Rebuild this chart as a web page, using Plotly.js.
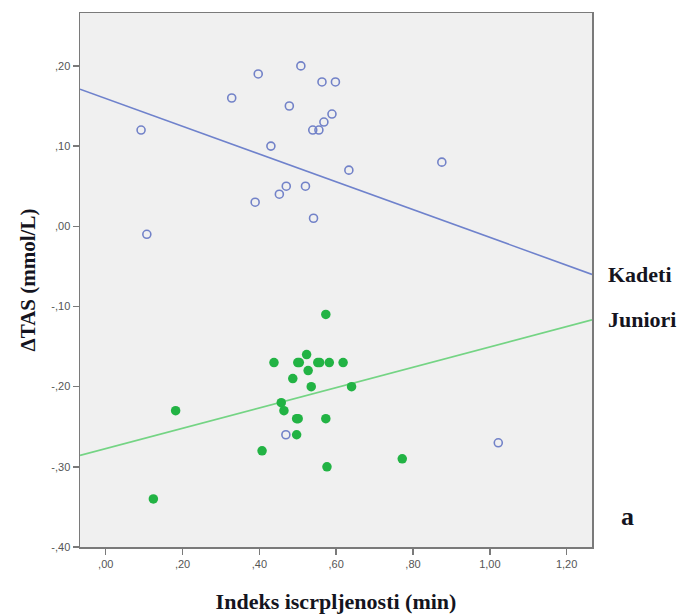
<!DOCTYPE html>
<html>
<head>
<meta charset="utf-8">
<script src="https://cdn.plot.ly/plotly-3.0.1.min.js"></script>
<style>html,body{margin:0;padding:0;background:#fff;}#chart{width:682px;height:615px;}</style>
</head>
<body>
<div id="chart"></div>
<script>
// Kadeti (open circles)
const kadetiX = [0.397, 0.508, 0.563, 0.598, 0.328, 0.478, 0.589, 0.568, 0.539, 0.555, 0.430, 0.633, 0.470, 0.520, 0.452, 0.389, 0.541, 0.092, 0.107, 0.875, 0.469, 1.022];
const kadetiY = [0.19, 0.20, 0.18, 0.18, 0.16, 0.15, 0.14, 0.13, 0.12, 0.12, 0.10, 0.07, 0.05, 0.05, 0.04, 0.03, 0.01, 0.12, -0.01, 0.08, -0.26, -0.27];
// Juniori (filled circles)
const junioriX = [0.573, 0.523, 0.438, 0.500, 0.504, 0.552, 0.557, 0.582, 0.618, 0.527, 0.487, 0.535, 0.640, 0.182, 0.457, 0.464, 0.497, 0.501, 0.573, 0.497, 0.407, 0.772, 0.576, 0.124];
const junioriY = [-0.11, -0.16, -0.17, -0.17, -0.17, -0.17, -0.17, -0.17, -0.17, -0.18, -0.19, -0.20, -0.20, -0.23, -0.22, -0.23, -0.24, -0.24, -0.24, -0.26, -0.28, -0.29, -0.30, -0.34];
// Fit lines: [intercept, slope]
const kadetiFit = [0.1594, -0.1733];
const junioriFit = [-0.2772, 0.1267];
const groupNames = ["Kadeti", "Juniori"];
const xTickVals = [0, 0.2, 0.4, 0.6, 0.8, 1.0, 1.2];
const xTickText = [",00", ",20", ",40", ",60", ",80", "1,00", "1,20"];
const yTickVals = [0.2, 0.1, 0, -0.1, -0.2, -0.3, -0.4];
const yTickText = [",20", ",10", ",00", "-,10", "-,20", "-,30", "-,40"];

const xRange = [-0.067, 1.266];
const yRange = [-0.40, 0.266];
function fitLine(f) { return xRange.map(x => f[0] + f[1] * x); }
const kLine = fitLine(kadetiFit);
const jLine = fitLine(junioriFit);

const serif = "'Liberation Serif', 'Times New Roman', serif";
const traces = [
  {x: xRange, y: kLine, mode: 'lines', line: {color: '#6f82cc', width: 1.6}, hoverinfo: 'skip', name: groupNames[0] + ' fit'},
  {x: xRange, y: jLine, mode: 'lines', line: {color: '#74d484', width: 1.7}, hoverinfo: 'skip', name: groupNames[1] + ' fit'},
  {x: kadetiX, y: kadetiY, mode: 'markers', name: groupNames[0],
   marker: {symbol: 'circle-open', size: 8, color: '#7282c8', line: {width: 1.6, color: '#7282c8'}}},
  {x: junioriX, y: junioriY, mode: 'markers', name: groupNames[1],
   marker: {symbol: 'circle', size: 9.5, color: '#22b344', line: {width: 0}}}
];

const layout = {
  width: 682, height: 615,
  margin: {l: 80, r: 90, t: 13, b: 68},
  paper_bgcolor: '#ffffff',
  plot_bgcolor: '#f0f0f0',
  showlegend: false,
  xaxis: {
    range: xRange, tickvals: xTickVals, ticktext: xTickText,
    showgrid: false, zeroline: false,
    showline: true, linecolor: '#7a7a7a', linewidth: 1.5, mirror: true,
    ticks: 'outside', ticklen: 6, tickwidth: 1.5, tickcolor: '#7a7a7a',
    tickfont: {family: "'Liberation Sans', Arial, sans-serif", size: 11, color: '#555'},
    title: {text: 'Indeks iscrpljenosti (min)', font: {family: serif, size: 22, color: '#141420', weight: 'bold'}, standoff: 25}
  },
  yaxis: {
    range: yRange, tickvals: yTickVals, ticktext: yTickText,
    showgrid: false, zeroline: false,
    showline: true, linecolor: '#7a7a7a', linewidth: 1.5, mirror: true,
    ticks: 'outside', ticklen: 6, tickwidth: 1.5, tickcolor: '#7a7a7a',
    tickfont: {family: "'Liberation Sans', Arial, sans-serif", size: 11, color: '#555'},
    title: {text: 'ΔTAS (mmol/L)', font: {family: serif, size: 21, color: '#141420', weight: 'bold'}, standoff: 10}
  },
  annotations: [
    {xref: 'paper', x: 1, xshift: 14, xanchor: 'left', yref: 'y', y: kLine[1], yanchor: 'middle',
     text: '<b>' + groupNames[0] + '</b>', showarrow: false, font: {family: serif, size: 22, color: '#141420'}},
    {xref: 'paper', x: 1, xshift: 14, xanchor: 'left', yref: 'y', y: jLine[1], yanchor: 'middle',
     text: '<b>' + groupNames[1] + '</b>', showarrow: false, font: {family: serif, size: 22, color: '#141420'}},
    {xref: 'paper', x: 1, xshift: 35, xanchor: 'center', yref: 'y', y: -0.362, yanchor: 'middle',
     text: '<b>a</b>', showarrow: false, font: {family: serif, size: 26, color: '#141420'}}
  ]
};

Plotly.newPlot('chart', traces, layout, {displayModeBar: false, staticPlot: true});
</script>
</body>
</html>
